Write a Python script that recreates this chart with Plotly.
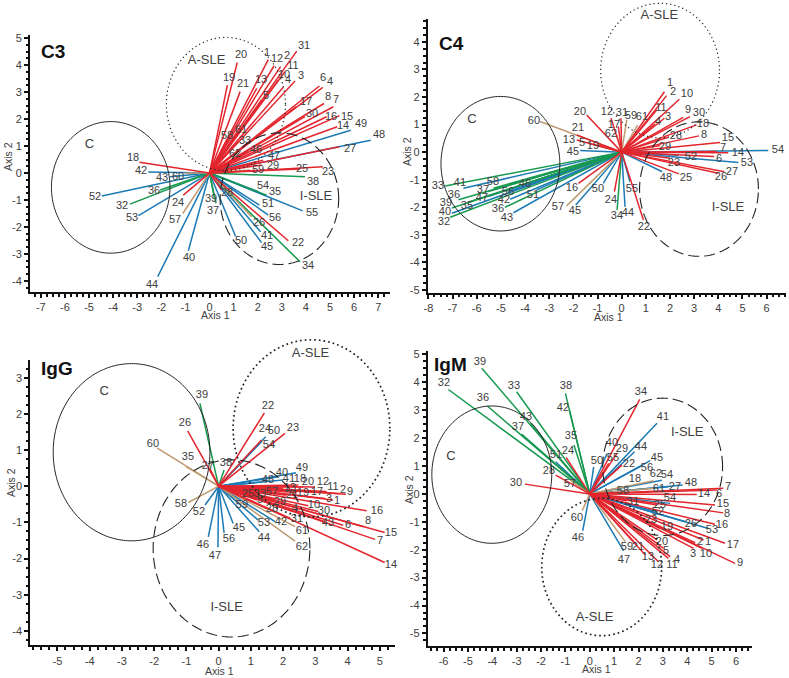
import math
import plotly.graph_objects as go

# ---------- data: point label, axis 1, axis 2 ----------
C3_ids = ["1","2","12","11","31","10","4","3","13","5","20","19","21","6","4","17","8","7","30","16","15","14","49","48","27","61","58","33","46","62","47","29","59","25","23","38","18","42","43","60","52","36","32","53","24","57","40","44","39","37","28","54","35","51","55","56","26","41","45","50","22","34"]
C3_x = [2.44,2.95,2.68,3.13,3.62,2.86,3.06,3.55,1.96,2.16,1.15,0.74,1.27,4.56,4.70,3.59,4.75,5.14,3.96,4.86,5.39,5.30,5.86,6.69,5.39,1.15,0.71,1.20,1.61,0.85,2.23,2.16,1.68,3.76,4.70,3.96,-2.91,-2.54,-1.64,-1.02,-4.47,-2.05,-3.30,-2.95,-1.09,-1.11,-0.88,-2.15,0.20,0.27,0.50,2.03,2.37,2.07,3.87,2.44,1.75,2.12,2.16,1.08,3.27,3.76]
C3_y = [4.21,3.95,3.98,3.76,4.52,3.45,3.18,3.41,3.14,2.71,4.10,3.26,3.02,3.23,3.18,2.46,2.58,2.46,2.09,2.09,2.13,1.72,1.59,1.22,0.98,1.47,1.22,1.16,0.79,0.60,0.48,0.30,0.11,0.15,0.23,-0.14,0.40,0.04,-0.14,0.00,-0.85,-0.63,-1.15,-1.58,-0.82,-1.50,-2.88,-3.84,-0.90,-1.12,-0.63,-0.69,-0.82,-1.19,-1.40,-1.56,-1.62,-2.18,-2.58,-2.34,-2.51,-3.29]
C3_blue = ["49","48","42","43","52","53","40","44","54","51","55","56","41","45","50"]
C3_green = ["38","36","32","39","37","35","34"]
C3_tan = ["60","57","59","26"]

C4_ids = ["1","2","10","11","9","30","3","4","18","28","8","29","15","7","14","54","6","52","53","23","27","26","25","48","22","55","44","34","24","50","45","57","16","51","46","56","42","36","43","58","37","47","41","33","36","35","39","40","32","60","20","21","13","5","19","45","12","31","17","62","59","61"]
C4_x = [1.77,1.86,2.39,1.45,2.55,2.83,1.77,1.38,3.10,1.93,3.20,1.59,4.07,3.93,4.41,6.07,3.83,2.34,4.83,2.00,4.25,4.00,2.37,1.68,0.90,0.34,0.14,-0.19,-0.30,-0.76,-1.90,-2.28,-1.79,-3.52,-3.72,-4.69,-4.62,-4.83,-4.48,-5.31,-5.52,-5.50,-6.55,-7.31,-6.76,-6.30,-7.03,-7.03,-7.10,-3.38,-1.45,-1.86,-1.86,-1.38,-0.97,-1.72,-0.44,-0.03,-0.14,-0.21,0.21,0.66]
C4_y = [2.19,2.05,1.92,1.53,1.26,1.29,1.23,1.02,0.99,0.54,0.59,0.24,0.35,0.02,-0.02,0.06,-0.16,-0.11,-0.38,-0.22,-0.71,-0.77,-0.79,-0.71,-2.46,-1.07,-1.98,-2.10,-1.43,-1.13,-1.92,-1.95,-1.13,-1.37,-1.07,-1.43,-1.71,-2.00,-2.20,-1.31,-1.43,-1.60,-1.31,-1.23,-1.73,-1.80,-2.03,-2.22,-2.36,1.11,1.35,0.62,0.44,0.32,0.26,0.06,1.23,1.23,0.93,0.62,1.17,0.98]
C4_blue = ["54","52","53","48","55","44","50","45","51","46","56","42","43","47","41","40"]
C4_green = ["34","36","58","37","33","35","39","32"]
C4_tan = ["57","60","62","59","61"]

IgG_ids = ["39","26","60","35","27","38","22","24","50","54","23","49","40","41","48","18","20","12","11","2","9","13","17","19","21","25","57","33","3","1","5","29","10","16","30","59","28","4","8","6","43","15","7","14","31","42","53","61","62","44","45","56","47","46","52","58"]
IgG_x = [-0.58,-0.96,-1.90,-1.01,-0.27,0.17,1.42,1.33,1.46,1.33,2.06,2.40,1.85,2.00,1.38,2.47,2.62,2.99,3.35,3.76,3.95,2.00,2.88,2.42,2.10,0.82,1.49,1.28,3.30,3.55,1.18,1.75,2.78,4.59,3.09,0.64,1.49,2.31,4.50,3.86,3.30,5.15,4.85,5.15,2.23,1.75,1.23,2.37,2.37,1.26,0.45,0.17,-0.02,-0.32,-0.42,-0.94]
IgG_y = [2.29,1.53,1.05,0.54,0.49,0.45,2.03,1.28,1.37,1.23,1.46,0.37,0.26,0.17,0.12,0.03,-0.02,-0.02,-0.15,-0.20,-0.22,-0.06,-0.15,-0.18,-0.25,-0.22,-0.18,-0.22,-0.34,-0.38,-0.38,-0.38,-0.54,-0.68,-0.70,-0.48,-0.62,-0.70,-1.12,-1.08,-0.98,-1.28,-1.47,-2.11,-0.89,-0.98,-0.94,-1.12,-1.52,-1.26,-1.03,-1.29,-1.69,-1.40,-0.52,-0.45]
IgG_blue = ["50","54","49","40","41","48","59","42","53","44","45","56","47","46","52"]
IgG_green = ["39","38"]
IgG_tan = ["60","35","58","61","62"]

IgM_ids = ["39","32","33","36","43","37","38","42","35","24","51","28","57","30","50","40","55","29","44","22","34","41","45","56","18","62","54","48","27","61","58","7","6","14","15","54","8","16","53","26","17","9","2","1","3","10","19","20","5","4","11","12","13","21","59","47","46","60","31","25","52","23"]
IgM_x = [-4.43,-5.80,-3.00,-4.20,-2.43,-2.80,-1.00,-0.83,-0.65,-0.97,-1.40,-1.40,-0.79,-2.66,0.16,0.71,0.78,1.12,1.84,1.32,2.05,2.76,2.48,2.11,1.60,2.62,2.96,3.81,3.23,2.62,0.98,5.48,5.21,4.39,5.14,3.30,5.48,5.14,4.87,3.92,5.55,5.96,4.32,4.67,4.26,4.60,2.89,2.76,3.03,3.30,3.23,2.82,2.28,1.87,1.46,1.39,-0.29,-0.31,1.53,2.76,2.76,2.35]
IgM_y = [4.50,3.74,3.66,3.15,2.53,2.14,3.60,2.98,1.75,1.31,1.15,0.67,0.49,0.35,0.97,1.45,1.09,1.45,1.51,1.03,3.39,2.53,1.19,1.00,0.29,0.47,0.49,0.32,0.26,0.20,0.05,0.20,0.14,-0.02,-0.40,-0.34,-0.68,-1.09,-1.24,-1.00,-1.77,-2.49,-1.75,-1.65,-1.95,-1.95,-1.24,-1.65,-1.95,-2.25,-2.31,-2.43,-2.19,-1.77,-1.71,-2.04,-1.32,-0.60,-0.25,-0.40,-0.64,-0.94]
IgM_blue = ["51","50","40","44","41","45","56","54","48","27","53","26","47","46","52"]
IgM_green = ["39","32","33","36","43","37","38","42","35"]
IgM_tan = ["57","18","62","60","59","61"]

# ellipses: centre x, centre y, radius x, radius y
C3_rings = {"C": (-4.10,-0.53,2.46,2.44), "A-SLE": (0.68,2.56,2.47,2.47), "I-SLE": (2.90,-0.95,2.46,2.44)}
C4_rings = {"C": (-5.02,-0.42,2.46,2.44), "A-SLE": (1.59,2.96,2.46,2.44), "I-SLE": (3.20,-1.34,2.46,2.44)}
IgG_rings = {"C": (-2.70,0.94,2.43,2.45), "A-SLE": (2.88,1.60,2.43,2.45), "I-SLE": (0.40,-1.72,2.43,2.45)}
IgM_rings = {"C": (-4.02,0.69,2.46,2.46), "A-SLE": (0.49,-2.62,2.46,2.46), "I-SLE": (2.99,0.97,2.46,2.46)}

# region-name positions
C3_names = {"C": (-4.98,1.05), "A-SLE": (-0.12,4.18), "I-SLE": (4.42,-0.87)}
C4_names = {"C": (-6.2,1.18), "A-SLE": (1.56,4.95), "I-SLE": (4.4,-2.0)}
IgG_names = {"C": (-3.55,2.6), "A-SLE": (2.85,3.65), "I-SLE": (0.25,-3.35)}
IgM_names = {"C": (-5.7,1.33), "A-SLE": (0.2,-4.45), "I-SLE": (4.0,2.2)}

C3_xticks = list(range(-7,8)); C3_yticks = list(range(-4,6))
C4_xticks = list(range(-8,7)); C4_yticks = list(range(-5,5))
IgG_xticks = list(range(-5,6)); IgG_yticks = list(range(-4,4))
IgM_xticks = list(range(-6,7)); IgM_yticks = list(range(-5,6))

# where each label text sits on the page (same order as the ids)
C3_place = [(267,53),(287,56),(277,59),(293,66),(304,46),(284,75),(288,80),(301,76),(261,80),(266,96),(241,55),(229,78),(243,84),(323,78),(330,82),(306,102),(328,97),(336,100),(312,114),(331,117),(347,117),(343,126),(361,124),(379,135),(350,149),(241,130),(227,136),(245,141),(256,150),(235,154),(274,156),(273,166),(258,170),(302,169),(328,172),(313,182),(133,158),(141,171),(162,178),(178,177),(95,197),(154,191),(122,206),(132,218),(178,203),(175,220),(189,258),(152,285),(211,199),(213,211),(227,193),(263,186),(275,192),(268,204),(312,213),(275,218),(259,223),(267,236),(267,247),(241,241),(298,243),(308,266)]
C4_place = [(670,83),(673,92),(687,94),(661,108),(688,110),(699,113),(668,117),(658,122),(703,124),(676,136),(704,135),(665,147),(728,138),(723,148),(738,153),(778,150),(719,159),(691,157),(747,163),(674,163),(732,172),(721,177),(686,178),(666,178),(644,227),(632,189),(628,213),(617,216),(611,200),(598,189),(575,211),(558,207),(572,188),(533,195),(525,184),(508,192),(504,200),(498,209),(507,218),(493,182),(483,190),(482,198),(460,183),(438,186),(454,195),(467,206),(446,203),(445,212),(444,222),(534,121),(580,112),(578,128),(569,140),(582,143),(593,146),(573,152),(607,112),(622,113),(614,125),(611,134),(631,116),(642,117)]
IgG_place = [(202,395),(185,423),(153,444),(188,457),(208,466),(226,463),(268,406),(265,429),(274,431),(269,445),(293,428),(302,468),(282,473),(289,479),(268,480),(300,479),(308,482),(323,482),(333,487),(343,490),(350,492),(290,488),(317,492),(303,493),(292,495),(248,494),(272,492),(260,494),(329,499),(337,501),(260,500),(280,502),(314,505),(377,511),(324,511),(242,505),(272,509),(295,509),(368,521),(348,525),(328,523),(391,533),(380,541),(391,565),(297,519),(281,522),(264,523),(302,531),(302,547),(264,538),(239,528),(229,539),(215,556),(203,545),(199,512),(181,504)]
IgM_place = [(480,362),(444,383),(514,386),(483,398),(526,417),(518,427),(566,386),(563,408),(571,436),(568,451),(556,455),(549,471),(570,484),(516,483),(597,461),(612,443),(613,458),(622,449),(641,447),(629,464),(641,392),(663,417),(657,458),(647,468),(635,479),(656,474),(667,475),(691,483),(675,487),(659,489),(623,491),(728,487),(719,494),(704,494),(723,504),(670,498),(727,514),(722,525),(712,530),(691,524),(733,545),(740,563),(700,542),(708,542),(693,554),(706,554),(667,527),(662,542),(666,551),(677,560),(672,565),(657,565),(648,557),(638,547),(627,547),(624,560),(578,538),(577,518),(633,502),(660,505),(658,512),(651,520)]

W, H = 789, 678
COL = {"r": "#e3262e", "b": "#1c7ab5", "g": "#17994f", "t": "#bf9a70"}
INK = "#404040"
FONT = "Liberation Sans"

panels = [
 dict(title="C3", ids=C3_ids, x=C3_x, y=C3_y, blue=C3_blue, green=C3_green, tan=C3_tan, rings=C3_rings, names=C3_names, xt=C3_xticks, yt=C3_yticks, place=C3_place,
      box=(30,390,35,292), xr=(-7.45,7.49), yr=(-4.41,5.12), tpos=(53,52), t1=(215,315), t2=(8,157), dot=(1.2,"1.2px,3px")),
 dict(title="C4", ids=C4_ids, x=C4_x, y=C4_y, blue=C4_blue, green=C4_green, tan=C4_tan, rings=C4_rings, names=C4_names, xt=C4_xticks, yt=C4_yticks, place=C4_place,
      box=(427.7,785.7,19,292.7), xr=(-8.03,6.79), yr=(-5.1,4.83), tpos=(451,43), t1=(608,317), t2=(407,152), dot=(1.2,"1.2px,3px")),
 dict(title="IgG", ids=IgG_ids, x=IgG_x, y=IgG_y, blue=IgG_blue, green=IgG_green, tan=IgG_tan, rings=IgG_rings, names=IgG_names, xt=IgG_xticks, yt=IgG_yticks, place=IgG_place,
      box=(30.3,395,360,645.3), xr=(-5.84,5.47), yr=(-4.4,3.49), tpos=(57,369), t1=(219,671), t2=(11,483), dot=(1.7,"1.7px,3px")),
 dict(title="IgM", ids=IgM_ids, x=IgM_x, y=IgM_y, blue=IgM_blue, green=IgM_green, tan=IgM_tan, rings=IgM_rings, names=IgM_names, xt=IgM_xticks, yt=IgM_yticks, place=IgM_place,
      box=(427.7,752.3,351,646), xr=(-6.65,6.67), yr=(-5.45,5.12), tpos=(450,364), t1=(596,669), t2=(409,490), dot=(1.7,"1.7px,3px")),
]

fig = go.Figure()
layout = dict(width=W, height=H, margin=dict(l=0,r=0,t=0,b=0,autoexpand=False), showlegend=False,
              plot_bgcolor="rgba(0,0,0,0)", paper_bgcolor="white", font=dict(family=FONT, color=INK, size=11))
ann = []
for i, p in enumerate(panels):
    s = "" if i == 0 else str(i+1)
    xa, ya = "x"+s, "y"+s
    L,R,T,B = p["box"]
    sx = (R-L)/(p["xr"][1]-p["xr"][0]); sy = (B-T)/(p["yr"][1]-p["yr"][0])
    common = dict(showgrid=False, zeroline=False, showline=True, linecolor="#111", linewidth=2, automargin=False,
                  ticks="outside", ticklen=4, tickwidth=1.5, tickcolor="#111",
                  tickfont=dict(size=11, color=INK, family=FONT),
                  minor=dict(dtick=0.25, ticks="outside", ticklen=2.5, tickwidth=1.5, tickcolor="#111"))
    layout["xaxis"+s] = dict(domain=[L/W,R/W], range=list(p["xr"]), anchor=ya, tickvals=p["xt"], ticktext=[str(v) for v in p["xt"]], **common)
    layout["yaxis"+s] = dict(domain=[1-B/H,1-T/H], range=list(p["yr"]), anchor=xa, tickvals=p["yt"], ticktext=[str(v) for v in p["yt"]], **common)
    # hidden y axis on the same scale reaching the page top, so the ellipses can overrun the drawn axis
    rs = str(i+5)
    ra = "y"+rs
    layout["yaxis"+rs] = dict(domain=[1-B/H,1], range=[p["yr"][0], p["yr"][1]+T/sy], anchor=xa, visible=False)
    # spokes
    def grp(label):
        return "b" if label in p["blue"] else "g" if label in p["green"] else "t" if label in p["tan"] else "r"
    for g in "bgtr":
        xs,ys = [],[]
        for lab,vx,vy in zip(p["ids"],p["x"],p["y"]):
            if grp(lab)==g:
                xs += [0,vx,None]; ys += [0,vy,None]
        fig.add_trace(go.Scatter(x=xs,y=ys,mode="lines",line=dict(color=COL[g],width=1.5),hoverinfo="skip",xaxis=xa,yaxis=ya))
    # ellipses
    style = {"C": (1.0,"solid"), "A-SLE": p["dot"], "I-SLE": (1.1,"11px,5px")}
    for name,(cx,cy,rx,ry) in p["rings"].items():
        th = [2*math.pi*k/240 for k in range(241)]
        fig.add_trace(go.Scatter(x=[cx+rx*math.cos(t) for t in th], y=[cy+ry*math.sin(t) for t in th], mode="lines",
                                 line=dict(color="#222", width=style[name][0], dash=style[name][1], simplify=False), hoverinfo="skip", xaxis=xa, yaxis=ra))
        nx,ny = p["names"][name]
        fig.add_trace(go.Scatter(x=[nx],y=[ny],mode="text",text=[name],textfont=dict(size=13,color=INK,family=FONT),cliponaxis=False,hoverinfo="skip",xaxis=xa,yaxis=ra))
    # point labels
    lx = [p["xr"][0]+(a-L)/sx for a,b in p["place"]]
    ly = [p["yr"][1]-(b-T)/sy for a,b in p["place"]]
    fig.add_trace(go.Scatter(x=lx,y=ly,mode="text",text=p["ids"],textfont=dict(size=11,color=INK,family=FONT),
                             textposition="middle center",cliponaxis=False,hoverinfo="skip",xaxis=xa,yaxis=ya))
    ann.append(dict(text="<b>%s</b>"%p["title"], xref="paper", yref="paper", x=p["tpos"][0]/W, y=1-p["tpos"][1]/H,
                    xanchor="center", yanchor="middle", showarrow=False, font=dict(size=19,color="#111",family=FONT)))
    ann.append(dict(text="Axis 1", xref="paper", yref="paper", x=p["t1"][0]/W, y=1-p["t1"][1]/H,
                    xanchor="center", yanchor="middle", showarrow=False, font=dict(size=10.5,color=INK,family=FONT)))
    ann.append(dict(text="Axis 2", xref="paper", yref="paper", x=p["t2"][0]/W, y=1-p["t2"][1]/H, textangle=-90,
                    xanchor="center", yanchor="middle", showarrow=False, font=dict(size=10.5,color=INK,family=FONT)))
layout["annotations"]=ann
fig.update_layout(**layout)
fig.write_html("out.html", config={"displayModeBar": False},
               post_script="document.body.style.margin='0';document.documentElement.style.overflow='hidden';window.dispatchEvent(new Event('resize'));")
